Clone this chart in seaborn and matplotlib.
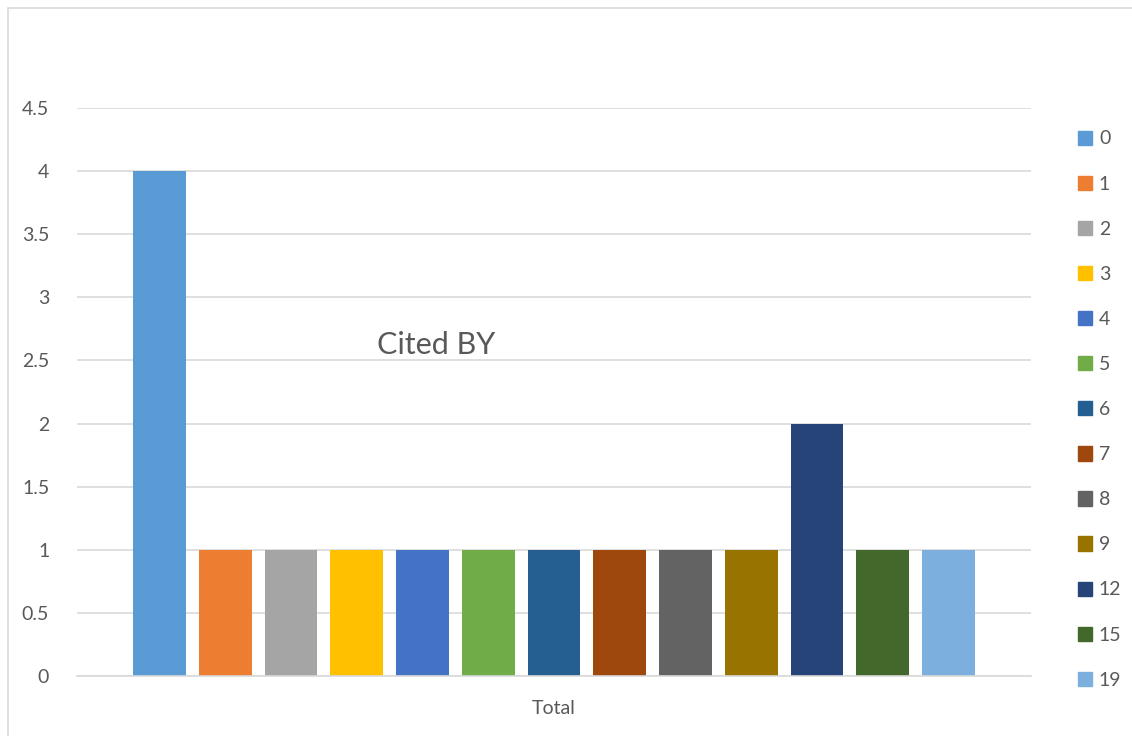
import matplotlib
matplotlib.use("Agg")
import matplotlib.pyplot as plt
import matplotlib.patches as mpatches
import seaborn as sns
import pandas as pd

categories = ["Total"]
series = ["0", "1", "2", "3", "4", "5", "6", "7", "8", "9", "12", "15", "19"]
values = [4, 1, 1, 1, 1, 1, 1, 1, 1, 1, 2, 1, 1]
colors = ["#5B9BD5", "#ED7D31", "#A5A5A5", "#FFC000", "#4472C4", "#70AD47",
          "#255E91", "#9E480E", "#636363", "#997300", "#264478", "#43682B", "#7CAFDD"]
yticks = [0, 0.5, 1, 1.5, 2, 2.5, 3, 3.5, 4, 4.5]
ytick_labels = ["0", "0.5", "1", "1.5", "2", "2.5", "3", "3.5", "4", "4.5"]

df = pd.DataFrame({"cat": categories * len(series), "series": series, "value": values})

sns.set_theme(style="white")
plt.rcParams["font.family"] = ["Lato", "DejaVu Sans"]
txt = "#595959"

fig = plt.figure(figsize=(11.32, 7.36), dpi=100)
ax = fig.add_axes([77 / 1132, 1 - 676 / 736, (1031 - 77) / 1132, (676 - 108) / 736])

sns.barplot(data=df, x="cat", y="value", hue="series", hue_order=series,
            palette=dict(zip(series, colors)), width=0.896, gap=0.2,
            saturation=1, linewidth=0, edgecolor="none", ax=ax, legend=False)

ax.set_xlim(-0.5, 0.5)
ax.set_ylim(0, 4.5)
ax.set_yticks(yticks)
ax.set_yticklabels(ytick_labels)
ax.yaxis.grid(True, color="#D9D9D9", linewidth=1.2)
ax.set_axisbelow(True)
for s in ["top", "right", "left"]:
    ax.spines[s].set_visible(False)
ax.spines["bottom"].set_color("#D9D9D9")
ax.spines["bottom"].set_linewidth(1.2)
ax.tick_params(axis="y", length=0, pad=20, labelsize=14, labelcolor=txt)
ax.tick_params(axis="x", length=0, pad=17, labelsize=14, labelcolor=txt)
ax.set_xlabel("")
ax.set_ylabel("")

ax.text(0.376, 0.583, "Cited BY", transform=ax.transAxes, ha="center", va="center",
        fontsize=22, color=txt)

handles = [mpatches.Patch(color=c, label=s) for s, c in zip(series, colors)]
fig.legend(handles=handles, loc="upper left", bbox_to_anchor=(1060 / 1132, 1 - 113 / 736),
           frameon=False, fontsize=14, handlelength=0.75, handleheight=0.75,
           handletextpad=0.35, labelspacing=1.445, labelcolor=txt)

border = mpatches.Rectangle((8 / 1132, -0.05), 1.5, 1 - 8 / 736 + 0.05, transform=fig.transFigure,
                            fill=False, edgecolor="#D9D9D9", linewidth=1.2)
fig.patches.append(border)

fig.savefig("out.png", dpi=100)
